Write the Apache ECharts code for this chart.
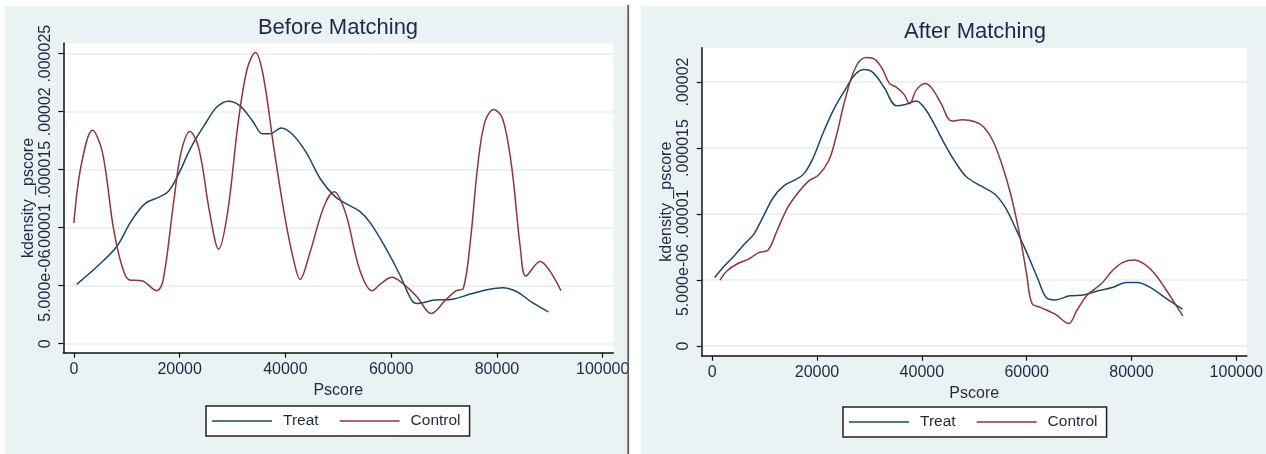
<!DOCTYPE html>
<html><head><meta charset="utf-8">
<script src="https://cdn.jsdelivr.net/npm/echarts@6/dist/echarts.min.js"></script>
<style>html,body{margin:0;padding:0;background:#fff}#c{width:1266px;height:454px}</style>
</head><body><div id="c"></div>
<script>
// ---- data ----
const panelTitles = ['Before Matching', 'After Matching'];
const seriesNames = ['Treat', 'Control'];
const xTicks = [0, 20000, 40000, 60000, 80000, 100000];
const yTicksBefore = [0, 0.000005, 0.00001, 0.000015, 0.00002, 0.000025];
const yTicksAfter = [0, 0.000005, 0.00001, 0.000015, 0.00002];
const yTickLabels = ['0', '5.000e-06', '.00001', '.000015', '.00002', '.000025'];
const xTitle = 'Pscore';
const yTitle = 'kdensity _pscore';

const treatBefore = [
  [540,5.12e-6],[4390,6.65e-6],[8110,8.38e-6],[10810,10.55e-6],[13510,12.1e-6],[16220,12.66e-6],
  [17900,13.15e-6],[19600,14.45e-6],[22300,17.05e-6],[25000,19.07e-6],[27030,20.4e-6],[29190,20.9e-6],
  [31420,20.5e-6],[33790,19.2e-6],[35680,18.1e-6],[37160,18.1e-6],[39190,18.6e-6],[41220,18.1e-6],
  [43920,16.5e-6],[46620,14.2e-6],[49330,12.7e-6],[51350,12.1e-6],[54060,11.4e-6],[56080,10.4e-6],
  [58790,8.38e-6],[61490,6.07e-6],[63860,3.76e-6],[64870,3.47e-6],[68250,3.76e-6],[71620,3.84e-6],
  [75000,4.28e-6],[78380,4.68e-6],[81080,4.83e-6],[83780,4.48e-6],[86490,3.61e-6],[89730,2.75e-6]
];
const controlBefore = [
  [0,10.4e-6],[1350,15.3e-6],[3510,18.4e-6],[5400,16.5e-6],[7430,10.1e-6],[9120,6.65e-6],
  [10470,5.5e-6],[12840,5.43e-6],[15680,4.57e-6],[16890,5.5e-6],[18920,12.4e-6],[20270,16.5e-6],
  [21960,18.3e-6],[23650,16.8e-6],[25680,11.3e-6],[27370,8.15e-6],[29060,11.3e-6],[31080,19.1e-6],
  [32770,23.7e-6],[34330,25.1e-6],[35810,23.1e-6],[37840,16.8e-6],[39870,11.0e-6],[41560,7.2e-6],
  [42770,5.55e-6],[44600,7.8e-6],[47300,11.85e-6],[49190,13.1e-6],[51350,11.3e-6],[54060,6.36e-6],
  [56420,4.57e-6],[58110,5.2e-6],[60140,5.72e-6],[62160,5.2e-6],[64870,4.05e-6],[67570,2.6e-6],
  [70270,3.76e-6],[72300,4.57e-6],[73650,4.77e-6],[75000,8.96e-6],[76350,15.3e-6],[77700,19.1e-6],
  [79390,20.2e-6],[81080,19.4e-6],[82770,15.3e-6],[84460,8.1e-6],[85470,5.84e-6],[88180,7.08e-6],
  [89870,6.36e-6],[92100,4.57e-6]
];
const treatAfter = [
  [476,5.19e-6],[2180,6.0e-6],[4220,6.84e-6],[6260,7.77e-6],[7960,8.48e-6],[9660,9.75e-6],
  [11700,11.27e-6],[13740,12.15e-6],[15780,12.58e-6],[17480,13.04e-6],[19180,14.18e-6],[21220,16.2e-6],
  [23270,17.98e-6],[25310,19.37e-6],[27350,20.6e-6],[29050,20.94e-6],[30750,20.69e-6],[32790,19.6e-6],
  [35170,18.2e-6],[36870,18.3e-6],[38910,18.56e-6],[40610,17.98e-6],[42320,16.84e-6],[44360,15.3e-6],
  [46400,13.93e-6],[48440,12.84e-6],[51160,12.15e-6],[53880,11.52e-6],[55920,10.5e-6],[57960,8.86e-6],
  [60000,7.09e-6],[62040,5.19e-6],[63740,3.67e-6],[65440,3.49e-6],[68160,3.8e-6],[70880,3.87e-6],
  [73610,4.18e-6],[76330,4.43e-6],[79050,4.81e-6],[81090,4.81e-6],[83810,4.38e-6],[86530,3.62e-6],
  [89730,2.79e-6]
];
const controlAfter = [
  [1500,4.99e-6],[2860,5.7e-6],[4900,6.25e-6],[6940,6.58e-6],[8980,7.09e-6],[10680,7.27e-6],
  [12380,8.74e-6],[14420,10.5e-6],[16460,11.65e-6],[18500,12.53e-6],[20200,12.91e-6],[22240,14.05e-6],
  [23610,15.8e-6],[25310,18.6e-6],[27350,21.1e-6],[29390,21.85e-6],[31090,21.7e-6],[32450,21.0e-6],
  [33810,19.9e-6],[35170,19.6e-6],[36530,19.1e-6],[37690,18.36e-6],[38910,19.37e-6],[40610,19.88e-6],
  [41970,19.5e-6],[43680,18.36e-6],[45720,17.04e-6],[47760,17.14e-6],[50140,16.99e-6],[51840,16.58e-6],
  [53540,15.57e-6],[55240,13.8e-6],[56940,11.52e-6],[58640,8.48e-6],[60000,5.44e-6],[61020,3.22e-6],
  [62720,2.91e-6],[65440,2.41e-6],[68030,1.70e-6],[69530,2.66e-6],[71570,3.87e-6],[74290,4.73e-6],
  [76330,5.7e-6],[78380,6.33e-6],[80420,6.51e-6],[82460,6.2e-6],[84500,5.44e-6],[86530,4.3e-6],
  [88570,3.04e-6],[89800,2.28e-6]
];

// ---- styling ----
const FONT = 'Liberation Sans, Arial, sans-serif';
const TXT = '#1f2a40';
const NAVY = '#1a476f';
const MAROON = '#90353b';
const PANEL_BG = '#eaf2f3';
const GRIDLINE = '#e5eef1';

function yLabel(v) {
  let best = 0, bd = Infinity;
  yTicksBefore.forEach((t, i) => { const d = Math.abs(t - v); if (d < bd) { bd = d; best = i; } });
  return yTickLabels[best];
}

function xAxisDef(gridIndex) {
  return {
    type: 'value', gridIndex, min: -2000, max: 102000,
    name: xTitle, nameLocation: 'middle', nameGap: 25,
    nameTextStyle: { fontFamily: FONT, fontSize: 16, color: TXT },
    axisLine: { show: true, onZero: false, lineStyle: { color: '#111', width: 1.5 } },
    axisTick: { show: true, length: 5, customValues: xTicks, lineStyle: { color: '#111', width: 1.2 } },
    axisLabel: { customValues: xTicks, fontFamily: FONT, fontSize: 16, color: TXT, margin: 9, hideOverlap: false,
      formatter: (v) => String(Math.round(v)) },
    splitLine: { show: false }
  };
}
function yAxisDef(gridIndex, min, max, ticks) {
  return {
    type: 'value', gridIndex, min, max,
    name: yTitle, nameLocation: 'middle', nameGap: 27, nameRotate: 90,
    nameTextStyle: { fontFamily: FONT, fontSize: 16, color: TXT },
    axisLine: { show: true, onZero: false, lineStyle: { color: '#111', width: 1.5 } },
    axisTick: { show: true, length: 5, customValues: ticks, lineStyle: { color: '#111', width: 1.2 } },
    axisLabel: { customValues: ticks, rotate: 90, fontFamily: FONT, fontSize: 16, color: TXT, margin: 10,
      hideOverlap: false, formatter: (v) => yLabel(v) },
    splitLine: { show: true, lineStyle: { color: GRIDLINE, width: 1.5 } }
  };
}
function lineSeries(name, data, color, xi) {
  return {
    type: 'line', name, data, xAxisIndex: xi, yAxisIndex: xi,
    symbol: 'none', showSymbol: false, smooth: 0.35,
    lineStyle: { color, width: 1.5 }, itemStyle: { color }, silent: true, animation: false
  };
}
function legendDef(left, top) {
  return {
    left, top, orient: 'horizontal', data: seriesNames,
    icon: 'rect',
    backgroundColor: '#fff', borderColor: '#222', borderWidth: 1.5, borderRadius: 0,
    padding: [7, 9, 7, 6], itemWidth: 60, itemHeight: 1.6, itemGap: 21,
    textStyle: { fontFamily: FONT, fontSize: 15.5, color: TXT, padding: [0, 0, 0, 6], lineHeight: 15 },
    selectedMode: false
  };
}

const chart = echarts.init(document.getElementById('c'), null, { renderer: 'canvas' });
chart.setOption({
  animation: false,
  backgroundColor: '#ffffff',
  graphic: [
    { type: 'rect', z: -100, shape: { x: 5, y: 6, width: 622, height: 448 }, style: { fill: PANEL_BG }, silent: true },
    { type: 'rect', z: -100, shape: { x: 641, y: 6, width: 625, height: 448 }, style: { fill: PANEL_BG }, silent: true },
    { type: 'rect', z: 100, shape: { x: 627.3, y: 5, width: 1.8, height: 449 }, style: { fill: '#5a5a5a' }, silent: true }
  ],
  title: [
    { text: panelTitles[0], left: 338, top: 17, textAlign: 'center', padding: 0,
      textStyle: { fontFamily: FONT, fontSize: 22, fontWeight: 'normal', color: '#1c2a48' } },
    { text: panelTitles[1], left: 975, top: 21, textAlign: 'center', padding: 0,
      textStyle: { fontFamily: FONT, fontSize: 22, fontWeight: 'normal', color: '#1c2a48' } }
  ],
  legend: [legendDef(206, 406), legendDef(843, 407)],
  grid: [
    { left: 63.3, top: 43.3, width: 550, height: 309.4, show: true, backgroundColor: '#fff', borderWidth: 0 },
    { left: 701.7, top: 47.7, width: 547.3, height: 308, show: true, backgroundColor: '#fff', borderWidth: 0 }
  ],
  xAxis: [xAxisDef(0), xAxisDef(1)],
  yAxis: [
    yAxisDef(0, -7.76e-7, 2.5897e-5, yTicksBefore),
    yAxisDef(1, -7.35e-7, 2.26e-5, yTicksAfter)
  ],
  series: [
    lineSeries(seriesNames[0], treatBefore, NAVY, 0),
    lineSeries(seriesNames[1], controlBefore, MAROON, 0),
    lineSeries(seriesNames[0], treatAfter, NAVY, 1),
    lineSeries(seriesNames[1], controlAfter, MAROON, 1)
  ]
});
</script></body></html>
